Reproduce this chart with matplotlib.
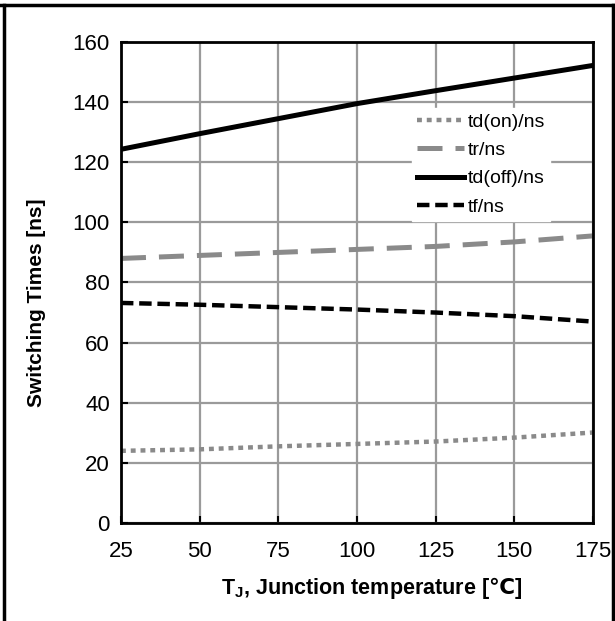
import matplotlib
matplotlib.use("Agg")
import matplotlib.pyplot as plt
from matplotlib.lines import Line2D

plt.rcParams['font.family'] = ['Liberation Sans', 'DejaVu Sans']
plt.rcParams['mathtext.fontset'] = 'custom'
plt.rcParams['mathtext.rm'] = 'Liberation Sans'
plt.rcParams['mathtext.bf'] = 'Liberation Sans:bold'
plt.rcParams['mathtext.sf'] = 'DejaVu Sans:bold'

# data
temps = [25, 50, 75, 100, 125, 150, 175]
td_on = [24, 24.5, 25.5, 26.3, 27.1, 28.4, 30.1]
tr = [88, 89, 90, 91, 92, 93.5, 95.5]
td_off = [124.3, 129.5, 134.5, 139.5, 143.8, 148, 152.2]
tf = [73.2, 72.6, 71.8, 71, 70, 68.8, 67]

x_ticks = [25, 50, 75, 100, 125, 150, 175]
y_ticks = [0, 20, 40, 60, 80, 100, 120, 140, 160]

fig = plt.figure(figsize=(6.15, 6.21), dpi=100)
ax = fig.add_axes([0.1967, 0.1578, 0.7675, 0.7746])

ax.plot(temps, td_on, color='#8a8a8a', lw=3.2, linestyle=(0, (1.1, 1.1)),
        dash_capstyle='butt', label='td(on)/ns')
ax.plot(temps, tr, color='#8a8a8a', lw=3.6, linestyle=(0, (5, 2.6)),
        label='tr/ns')
ax.plot(temps, td_off, color='black', lw=3.6, label='td(off)/ns')
ax.plot(temps, tf, color='black', lw=3.2, linestyle=(0, (2.8, 1.3)),
        label='tf/ns')

ax.set_xlim(25, 175)
ax.set_ylim(0, 160)
ax.set_xticks(x_ticks)
ax.set_yticks(y_ticks)
ax.grid(True, color='#9a9a9a', lw=1.6)
ax.set_axisbelow(True)
ax.tick_params(direction='in', length=5, width=1.5, labelsize=16, pad=8)
ax.tick_params(axis='x', pad=13)
for s in ax.spines.values():
    s.set_linewidth(2)

ax.set_ylabel('Switching Times [ns]', fontsize=15, fontweight='bold')
ax.yaxis.set_label_coords(-0.159, 0.457)
ax.set_xlabel(r'$\mathbf{T_J}$, Junction temperature [$\mathsf{℃}$]',
              fontsize=15.5, fontweight='bold')
ax.xaxis.label.set_va('center')
ax.xaxis.set_label_coords(0.53, -0.135)

leg = ax.legend(loc='upper left', bbox_to_anchor=(0.617, 0.862), fontsize=14,
                frameon=True, fancybox=False, edgecolor='white', framealpha=1,
                handlelength=2.4, handletextpad=0.2, labelspacing=0.55,
                borderpad=0.25, borderaxespad=0)

# outer frame of the figure
fig.add_artist(Line2D([0, 1], [0.992, 0.992], color='black', lw=2.5))
fig.add_artist(Line2D([0.007, 0.007], [0, 0.992], color='black', lw=2.5))
fig.add_artist(Line2D([0.996, 0.996], [0, 0.992], color='black', lw=2.5))

fig.savefig('out.png', dpi=100)
